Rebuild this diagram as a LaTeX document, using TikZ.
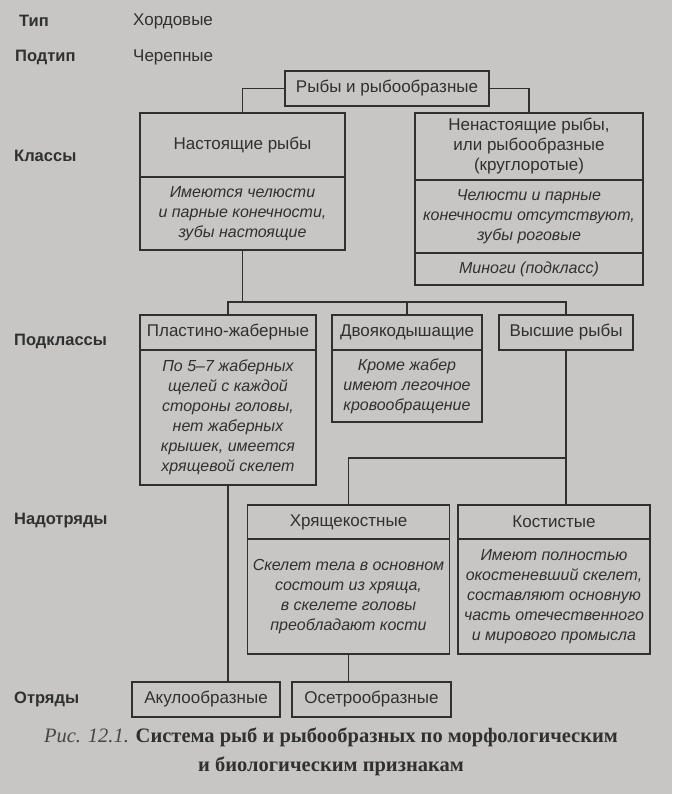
\documentclass[tikz,border=0pt]{standalone}
\usepackage{fontspec}
\setmainfont{Liberation Sans}
\newfontfamily\capfont{Liberation Serif}
\definecolor{paper}{RGB}{200,198,196}
\definecolor{ink}{RGB}{48,48,48}
\definecolor{capgray}{RGB}{70,70,70}
\begin{document}
\begin{tikzpicture}[x=1pt,y=-1pt,
  box/.style={draw=ink, line width=1.1pt, inner sep=0pt, align=center, text=ink, font=\fontsize{17}{20}\selectfont},
  it/.style={font=\fontsize{16}{20}\selectfont\itshape},
  lvl/.style={anchor=west, inner sep=0pt, text=ink, font=\fontsize{16.5}{20}\selectfont\bfseries},
  rank/.style={anchor=west, inner sep=0pt, text=ink, font=\fontsize{17}{20}\selectfont},
  capstyle/.style={inner sep=0pt, text=ink, font=\capfont\fontsize{20.5}{24}\selectfont},
  link/.style={draw=ink, line width=1.1pt}]
\fill[paper] (0,0) rectangle (672,794);
\useasboundingbox (0,0) rectangle (672,794);
% level labels
\node[lvl] (lt) at (19,21) {Тип};
\node[lvl] (lpt) at (15,57) {Подтип};
\node[lvl] (lk) at (14,156) {Классы};
\node[lvl] (lpk) at (14,341) {Подклассы};
\node[lvl] (lno) at (14,521) {Надотряды};
\node[lvl] (lo) at (14,699) {Отряды};
\node[rank] (tip) at (133,21) {Хордовые};
\node[rank] (ptip) at (133,57) {Черепные};
% boxes
\node[box, minimum width=204pt, minimum height=35pt] (root) at (387,88.5) {Рыбы и рыбообразные};
\node[box, minimum width=205pt, minimum height=64pt] (nasth) at (242.5,145) {Настоящие рыбы};
\node[box, it, minimum width=205pt, minimum height=73pt] (nastb) at (242.5,213.5) {Имеются челюсти\\и парные конечности,\\зубы настоящие};
\node[box, minimum width=228pt, minimum height=67pt] (nenh) at (529,146.5) {Ненастоящие рыбы,\\или рыбообразные\\(круглоротые)};
\node[box, it, minimum width=228pt, minimum height=73pt] (nenb) at (529,216.5) {Челюсти и парные\\конечности отсутствуют,\\зубы роговые};
\node[box, it, minimum width=228pt, minimum height=32pt] (nenc) at (529,269) {Миноги (подкласс)};
\node[box, minimum width=176pt, minimum height=35pt] (plh) at (228,332.5) {Пластино-жаберные};
\node[box, it, minimum width=176pt, minimum height=135pt] (plb) at (228,417.5) {По 5–7 жаберных\\щелей с каждой\\стороны головы,\\нет жаберных\\крышек, имеется\\хрящевой скелет};
\node[box, minimum width=150pt, minimum height=35pt] (dvh) at (407,332.5) {Двоякодышащие};
\node[box, it, minimum width=150pt, minimum height=72pt] (dvb) at (407,386) {Кроме жабер\\имеют легочное\\кровообращение};
\node[box, minimum width=134pt, minimum height=35pt] (vys) at (566,332.5) {Высшие рыбы};
\node[box, minimum width=202pt, minimum height=34pt] (hrh) at (348.5,522) {Хрящекостные};
\node[box, it, minimum width=202pt, minimum height=115pt] (hrb) at (348.5,596.5) {Скелет тела в основном\\состоит из хряща,\\в скелете головы\\преобладают кости};
\node[box, minimum width=192pt, minimum height=34pt] (kh) at (554,522) {Костистые};
\node[box, it, minimum width=192pt, minimum height=115pt] (kb) at (554,596.5) {Имеют полностью\\окостеневший скелет,\\составляют основную\\часть отечественного\\и мирового промысла};
\node[box, minimum width=148pt, minimum height=35pt] (ak) at (206,699.5) {Акулообразные};
\node[box, minimum width=159pt, minimum height=35pt] (os) at (371.5,699.5) {Осетрообразные};
% connectors
\coordinate (bus) at (0,302);
\coordinate (bus2) at (0,458);
\draw[link] (root.west) -| (nasth.north);
\draw[link] (root.east) -| (nenh.north);
\draw[link] (nastb.south) -- (nastb.south |- bus);
\draw[link] (plh.north) -- (plh.north |- bus) -- (vys.north |- bus) -- (vys.north);
\draw[link] (dvh.north) -- (dvh.north |- bus);
\draw[link] (vys.south) -- (vys.south |- kh.north);
\draw[link] (hrh.north) -- (hrh.north |- bus2) -- (vys.south |- bus2);
\draw[link] (plb.south) -- (plb.south |- ak.north);
\draw[link] (hrb.south) -- (hrb.south |- os.north);
% caption
\node[capstyle] (cap1) at (331,737) {\textcolor{capgray}{\textit{Рис. 12.1.}} \textbf{Система рыб и рыбообразных по морфологическим}};
\node[capstyle, font=\capfont\fontsize{20.5}{24}\selectfont\bfseries] (cap2) at (331,766) {и биологическим признакам};
\end{tikzpicture}
\end{document}
